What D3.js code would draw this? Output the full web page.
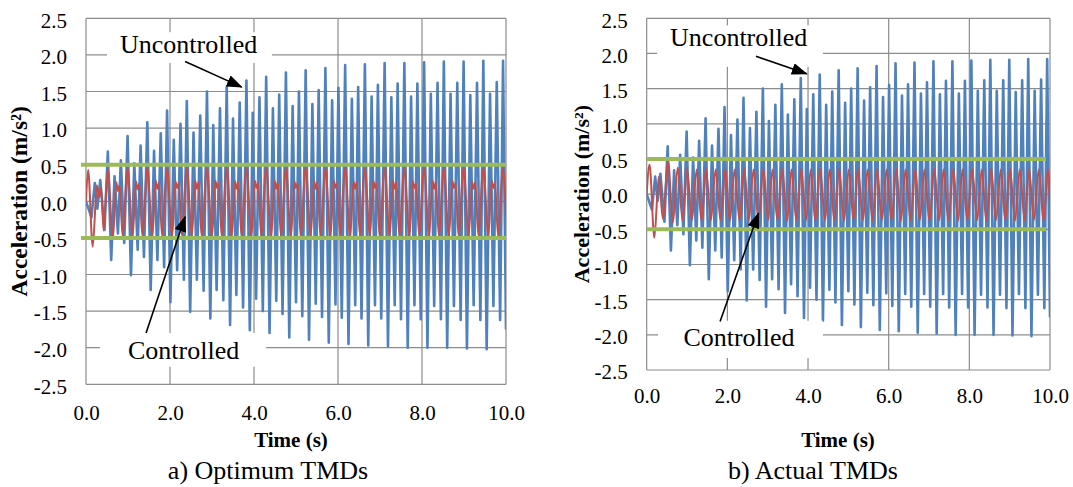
<!DOCTYPE html>
<html>
<head>
<meta charset="utf-8">
<script src="https://cdn.jsdelivr.net/npm/d3@7"></script>
<style>
body { margin: 0; background: #fff; }
svg text { font-family: "Liberation Serif", "Times New Roman", serif; fill: #000; }
</style>
</head>
<body>
<svg id="chart" width="1073" height="487"></svg>
<script>

// ---- data ----
var xTicks = [0, 2, 4, 6, 8, 10];
var yTicks = [-2.5, -2.0, -1.5, -1.0, -0.5, 0.0, 0.5, 1.0, 1.5, 2.0, 2.5];

// time of each turning point of the uncontrolled response (s)
var timeS = [0.00, 0.13, 0.21, 0.27, 0.34, 0.44, 0.52, 0.60, 0.68, 0.76, 0.83, 0.91, 0.99, 1.07, 1.15, 1.23,
    1.30, 1.38, 1.46, 1.54, 1.62, 1.70, 1.78, 1.86, 1.93, 2.01, 2.09, 2.17, 2.25, 2.33, 2.40, 2.48,
    2.56, 2.64, 2.72, 2.80, 2.88, 2.96, 3.03, 3.11, 3.19, 3.27, 3.35, 3.43, 3.50, 3.58, 3.66, 3.74,
    3.82, 3.90, 3.97, 4.05, 4.13, 4.21, 4.29, 4.37, 4.45, 4.53, 4.60, 4.68, 4.76, 4.84, 4.92, 5.00,
    5.07, 5.15, 5.23, 5.31, 5.39, 5.47, 5.54, 5.62, 5.70, 5.78, 5.86, 5.94, 6.01, 6.09, 6.17, 6.25,
    6.33, 6.41, 6.48, 6.56, 6.64, 6.72, 6.80, 6.88, 6.95, 7.03, 7.11, 7.19, 7.27, 7.35, 7.42, 7.50,
    7.58, 7.66, 7.74, 7.82, 7.89, 7.97, 8.05, 8.13, 8.21, 8.29, 8.37, 8.45, 8.52, 8.60, 8.68, 8.76,
    8.84, 8.92, 8.99, 9.07, 9.15, 9.23, 9.31, 9.39, 9.46, 9.54, 9.62, 9.70, 9.78, 9.86, 9.93, 10.00];

// uncontrolled acceleration (m/s2), same in both panels
var uncontrolled = [0.00, -0.22, 0.25, -0.10, 0.29, -0.39,
    0.68, -0.80, 0.34, -0.44, 0.56, -0.57,
    0.89, -1.01, 0.52, -0.66, 0.76, -0.76,
    1.08, -1.21, 0.69, -0.80, 0.93, -0.90,
    1.24, -1.38, 0.84, -0.94, 1.06, -1.07,
    1.37, -1.51, 0.94, -1.07, 1.17, -1.22,
    1.50, -1.60, 1.04, -1.21, 1.27, -1.35,
    1.56, -1.69, 1.13, -1.28, 1.35, -1.45,
    1.65, -1.76, 1.21, -1.33, 1.42, -1.50,
    1.70, -1.80, 1.27, -1.36, 1.46, -1.54,
    1.76, -1.86, 1.30, -1.38, 1.50, -1.57,
    1.79, -1.89, 1.33, -1.40, 1.52, -1.58,
    1.82, -1.93, 1.38, -1.41, 1.55, -1.59,
    1.86, -1.95, 1.40, -1.42, 1.56, -1.60,
    1.87, -1.97, 1.43, -1.42, 1.59, -1.60,
    1.89, -1.98, 1.42, -1.42, 1.61, -1.61,
    1.89, -2.00, 1.43, -1.42, 1.61, -1.61,
    1.90, -2.00, 1.47, -1.43, 1.62, -1.61,
    1.91, -2.00, 1.47, -1.43, 1.62, -1.62,
    1.91, -2.01, 1.45, -1.42, 1.62, -1.62,
    1.92, -2.02, 1.47, -1.43, 1.63, -1.62,
    1.92, -1.75];

// controlled, optimum TMDs: its own turning points
var timeA = [0.00, 0.05, 0.16, 0.26, 0.31, 0.36, 0.42,
    0.52, 0.64, 0.72, 0.76, 0.80, 0.87,
    0.99, 1.11, 1.19, 1.23, 1.27, 1.34,
    1.46, 1.58, 1.66, 1.70, 1.74, 1.81,
    1.93, 2.05, 2.13, 2.17, 2.21, 2.28,
    2.40, 2.52, 2.60, 2.64, 2.68, 2.75,
    2.88, 3.00, 3.08, 3.12, 3.16, 3.23,
    3.35, 3.47, 3.55, 3.59, 3.63, 3.70,
    3.82, 3.94, 4.02, 4.06, 4.10, 4.17,
    4.29, 4.41, 4.49, 4.53, 4.57, 4.64,
    4.76, 4.88, 4.96, 5.00, 5.04, 5.11,
    5.23, 5.35, 5.43, 5.47, 5.51, 5.58,
    5.70, 5.82, 5.90, 5.94, 5.98, 6.05,
    6.17, 6.29, 6.37, 6.41, 6.45, 6.52,
    6.64, 6.76, 6.84, 6.88, 6.92, 6.99,
    7.11, 7.23, 7.31, 7.35, 7.39, 7.46,
    7.58, 7.70, 7.78, 7.82, 7.86, 7.93,
    8.05, 8.17, 8.25, 8.29, 8.33, 8.40,
    8.52, 8.64, 8.72, 8.76, 8.80, 8.87,
    8.99, 9.11, 9.19, 9.23, 9.27, 9.34,
    9.46, 9.58, 9.66, 9.70, 9.74, 9.81,
    9.93, 10.00];
var controlledA = [0.00, 0.43, -0.62, 0.22, 0.05, 0.18, -0.40,
    0.44, -0.52, 0.26, 0.14, 0.22, -0.47,
    0.45, -0.48, 0.27, 0.16, 0.24, -0.47,
    0.46, -0.47, 0.28, 0.17, 0.25, -0.47,
    0.45, -0.48, 0.27, 0.18, 0.25, -0.46,
    0.46, -0.47, 0.28, 0.17, 0.26, -0.47,
    0.45, -0.48, 0.28, 0.18, 0.25, -0.47,
    0.46, -0.48, 0.27, 0.17, 0.26, -0.46,
    0.45, -0.47, 0.28, 0.18, 0.25, -0.47,
    0.46, -0.48, 0.28, 0.17, 0.26, -0.47,
    0.45, -0.48, 0.27, 0.18, 0.25, -0.46,
    0.46, -0.47, 0.28, 0.17, 0.26, -0.47,
    0.45, -0.48, 0.28, 0.18, 0.25, -0.47,
    0.46, -0.48, 0.27, 0.17, 0.26, -0.46,
    0.45, -0.47, 0.28, 0.18, 0.25, -0.47,
    0.46, -0.48, 0.28, 0.17, 0.26, -0.47,
    0.45, -0.48, 0.27, 0.18, 0.25, -0.46,
    0.46, -0.47, 0.28, 0.17, 0.26, -0.47,
    0.45, -0.48, 0.28, 0.18, 0.25, -0.47,
    0.46, -0.48, 0.27, 0.17, 0.26, -0.46,
    0.45, -0.47, 0.28, 0.18, 0.25, -0.47,
    0.46, -0.20];

// controlled, actual TMDs: its own turning points
var timeB = [0.00, 0.07, 0.19, 0.30, 0.40, 0.53, 0.65, 0.77,
    0.89, 1.00, 1.12, 1.24, 1.36, 1.47, 1.59, 1.71, 1.83, 1.95,
    2.06, 2.18, 2.30, 2.42, 2.53, 2.65, 2.77, 2.89, 3.01, 3.12,
    3.24, 3.36, 3.48, 3.59, 3.71, 3.83, 3.95, 4.07, 4.18, 4.30,
    4.42, 4.54, 4.65, 4.77, 4.89, 5.01, 5.13, 5.24, 5.36, 5.48,
    5.60, 5.71, 5.83, 5.95, 6.07, 6.19, 6.30, 6.42, 6.54, 6.66,
    6.77, 6.89, 7.01, 7.13, 7.25, 7.36, 7.48, 7.60, 7.72, 7.83,
    7.95, 8.07, 8.19, 8.31, 8.42, 8.54, 8.66, 8.78, 8.89, 9.01,
    9.13, 9.25, 9.37, 9.48, 9.60, 9.72, 9.84, 9.95, 10.00];
var controlledB = [0.00, 0.42, -0.62, 0.25, -0.35, 0.46, -0.40, 0.38,
    -0.38, 0.36, -0.37, 0.35, -0.38, 0.36, -0.37, 0.35, -0.37, 0.36,
    -0.38, 0.35, -0.37, 0.36, -0.37, 0.35, -0.38, 0.36, -0.37, 0.35,
    -0.37, 0.36, -0.38, 0.35, -0.37, 0.36, -0.37, 0.35, -0.38, 0.36,
    -0.37, 0.35, -0.37, 0.36, -0.38, 0.35, -0.37, 0.36, -0.37, 0.35,
    -0.38, 0.36, -0.37, 0.35, -0.37, 0.36, -0.38, 0.35, -0.37, 0.36,
    -0.37, 0.35, -0.38, 0.36, -0.37, 0.35, -0.37, 0.36, -0.38, 0.35,
    -0.37, 0.36, -0.37, 0.35, -0.38, 0.36, -0.37, 0.35, -0.37, 0.36,
    -0.38, 0.35, -0.37, 0.36, -0.37, 0.35, -0.38, 0.36, -0.10];

// comfort limit lines (m/s2) and the time span they cover
var limitLevels = [0.5, -0.5];
var limitSpanA = [-0.12, 10];
var limitSpanB = [0, 9.9];

var captions = ["a) Optimum TMDs", "b) Actual TMDs"];

// ---- layout of the two panels ----
var panels = [
    {
        left: 86, right: 506, top: 18.3, bottom: 384.3,
        ctrlT: timeA, ctrlV: controlledA, limitSpan: limitSpanA, caption: captions[0],
        xLabelPad: 20.5, yTitleX: 27, yTitleSize: 23.5, xTitleX: 291, captionX: 268,
        unc: {text: [0.81, 2.02], box: [0.5, 4.43, 2.31, 1.89], arrow: [2.36, 1.91, 3.71, 1.56]},
        con: {text: [1.0, -2.16], box: [0.33, 4.29, -1.80, -2.26], arrow: [1.43, -1.80, 2.36, -0.21]}
    },
    {
        left: 646.7, right: 1050, top: 18.3, bottom: 370,
        ctrlT: timeB, ctrlV: controlledB, limitSpan: limitSpanB, caption: captions[1],
        xLabelPad: 18.5, yTitleX: 589, yTitleSize: 22, xTitleX: 838, captionX: 813,
        unc: {text: [0.58, 2.10], box: [0.26, 4.37, 2.40, 1.81], arrow: [2.71, 1.96, 3.97, 1.71]},
        con: {text: [0.91, -2.16], box: [0.28, 4.37, -1.80, -2.33], arrow: [1.82, -1.81, 2.77, -0.27]}
    }
];

var svg = d3.select("#chart");
var defs = svg.append("defs");

defs.append("marker")
    .attr("id", "arrowHead")
    .attr("viewBox", "0 0 16 12")
    .attr("refX", 15)
    .attr("refY", 6)
    .attr("markerWidth", 16)
    .attr("markerHeight", 12)
    .attr("markerUnits", "userSpaceOnUse")
    .attr("orient", "auto")
    .append("path")
    .attr("d", "M0,0 L16,6 L0,12 Z")
    .attr("fill", "#000");

var fmt = function(d) { return d.toFixed(1); };

panels.forEach(function(p, i) {

    var x = d3.scaleLinear().domain([0, 10]).range([p.left, p.right]);
    var y = d3.scaleLinear().domain([-2.5, 2.5]).range([p.bottom, p.top]);
    var g = svg.append("g");

    defs.append("clipPath").attr("id", "clip" + i)
        .append("rect")
        .attr("x", p.left).attr("y", p.top)
        .attr("width", p.right - p.left).attr("height", p.bottom - p.top);

    // grid
    g.selectAll(".hgrid").data(yTicks).enter().append("line")
        .attr("class", "hgrid")
        .attr("x1", p.left).attr("x2", p.right)
        .attr("y1", function(d) { return y(d); })
        .attr("y2", function(d) { return y(d); })
        .attr("stroke", "#8c8c8c").attr("stroke-width", 1.2);

    g.selectAll(".vgrid").data(xTicks).enter().append("line")
        .attr("class", "vgrid")
        .attr("y1", p.top).attr("y2", p.bottom)
        .attr("x1", function(d) { return x(d); })
        .attr("x2", function(d) { return x(d); })
        .attr("stroke", "#8c8c8c").attr("stroke-width", 1.2);

    // axes (labels only)
    var yAxis = g.append("g")
        .attr("transform", "translate(" + p.left + ",0)")
        .call(d3.axisLeft(y).tickValues(yTicks).tickSize(0).tickPadding(19).tickFormat(fmt));
    var xAxis = g.append("g")
        .attr("transform", "translate(0," + p.bottom + ")")
        .call(d3.axisBottom(x).tickValues(xTicks).tickSize(0).tickPadding(p.xLabelPad).tickFormat(fmt));
    [yAxis, xAxis].forEach(function(a) {
        a.attr("font-family", "Liberation Serif").attr("font-size", 21);
        a.select(".domain").remove();
        a.selectAll("text")
            .style("font-family", "'Liberation Serif', serif")
            .style("font-size", "21px")
            .attr("fill", "#000");
    });
    yAxis.selectAll("text").attr("dy", "0.42em");

    // series
    var line = d3.line()
        .x(function(d) { return x(d.t); })
        .y(function(d) { return y(d.v); });

    var plot = g.append("g").attr("clip-path", "url(#clip" + i + ")");

    var uncData = timeS.map(function(t, k) { return {t: t, v: uncontrolled[k]}; });
    var conData = p.ctrlT.map(function(t, k) { return {t: t, v: p.ctrlV[k]}; });

    plot.append("path").datum(uncData)
        .attr("d", line)
        .attr("fill", "none")
        .attr("stroke", "#4f81bd")
        .attr("stroke-width", 2.6)
        .attr("stroke-linejoin", "round");

    plot.append("path").datum(conData)
        .attr("d", line.curve(d3.curveMonotoneX))
        .attr("fill", "none")
        .attr("stroke", "#c0504d")
        .attr("stroke-width", 2)
        .attr("stroke-linejoin", "round");

    g.selectAll(".limit").data(limitLevels).enter().append("line")
        .attr("class", "limit")
        .attr("x1", x(p.limitSpan[0])).attr("x2", x(p.limitSpan[1]))
        .attr("y1", function(d) { return y(d); })
        .attr("y2", function(d) { return y(d); })
        .attr("stroke", "#9bbb59")
        .attr("stroke-width", 4);

    // annotations
    [p.unc, p.con].forEach(function(a, j) {
        g.append("rect")
            .attr("x", x(a.box[0])).attr("width", x(a.box[1]) - x(a.box[0]))
            .attr("y", y(a.box[2])).attr("height", y(a.box[3]) - y(a.box[2]))
            .attr("fill", "#fff");
        g.append("text")
            .attr("x", x(a.text[0])).attr("y", y(a.text[1]))
            .style("font-size", "26px")
            .text(j === 0 ? "Uncontrolled" : "Controlled");
        g.append("line")
            .attr("x1", x(a.arrow[0])).attr("y1", y(a.arrow[1]))
            .attr("x2", x(a.arrow[2])).attr("y2", y(a.arrow[3]))
            .attr("stroke", "#000").attr("stroke-width", 1.6)
            .attr("marker-end", "url(#arrowHead)");
    });

    // titles
    g.append("text")
        .attr("transform", "translate(" + p.yTitleX + "," + ((p.top + p.bottom) / 2) + ") rotate(-90)")
        .attr("text-anchor", "middle")
        .style("font-size", p.yTitleSize + "px")
        .style("font-weight", "bold")
        .text("Acceleration (m/s²)");

    g.append("text")
        .attr("x", p.xTitleX).attr("y", 447)
        .attr("text-anchor", "middle")
        .style("font-size", "21px")
        .style("font-weight", "bold")
        .text("Time (s)");

    g.append("text")
        .attr("x", p.captionX).attr("y", 479)
        .attr("text-anchor", "middle")
        .style("font-size", "26px")
        .text(p.caption);
});

</script>
</body>
</html>
